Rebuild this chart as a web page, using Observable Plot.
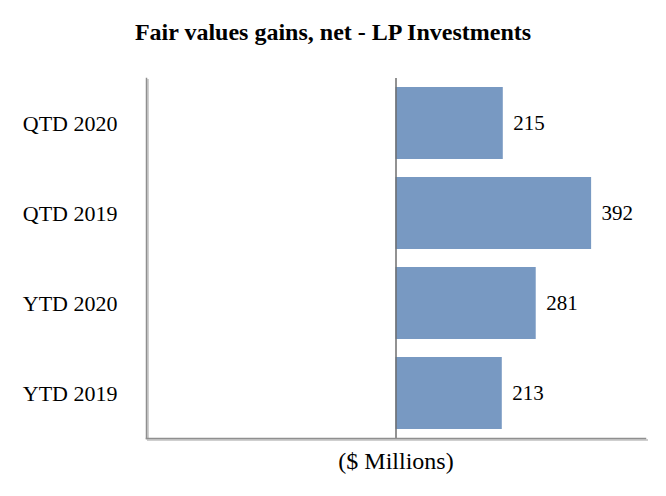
<!DOCTYPE html>
<html>
<head>
<meta charset="utf-8">
<script src="https://cdn.jsdelivr.net/npm/d3@7"></script>
<script src="https://cdn.jsdelivr.net/npm/@observablehq/plot@0.6"></script>
<style>
  body { margin: 0; background: #fff; }
  #title { height: 60px; box-sizing: border-box; padding-top: 19px; text-align: center;
    font: bold 24px "Liberation Serif", "Times New Roman", serif; line-height: 26px; color: #000; }
  svg { display: block; }
</style>
</head>
<body>
<div id="title">Fair values gains, net - LP Investments</div>
<div id="chart"></div>
<script>
const categories = ["QTD 2020", "QTD 2019", "YTD 2020", "YTD 2019"];
const values = [215, 392, 281, 213];
const xLabel = "($ Millions)";

const data = categories.map((c, i) => ({category: c, value: values[i]}));
const font = '"Liberation Serif", "Times New Roman", serif';

const chart = Plot.plot({
  width: 666,
  height: 436,
  marginLeft: 146,
  marginRight: 21,
  marginTop: 18,
  marginBottom: 58,
  style: {fontFamily: font, fontSize: "21px", color: "#000", background: "#fff"},
  x: {domain: [-500, 500], axis: null},
  y: {domain: categories, paddingInner: 0.2, paddingOuter: 0.1, label: null},
  marks: [
    Plot.barX(data, {y: "category", x: "value", fill: "#7899C2"}),
    Plot.ruleX([0], {stroke: "#6e6e6e", strokeWidth: 1.5}),
    Plot.frame({anchor: "left", stroke: "#cfcfcf", strokeWidth: 2, dx: 1.5, dy: 1.5}),
    Plot.frame({anchor: "bottom", stroke: "#cfcfcf", strokeWidth: 2, dx: 1.5, dy: 1.5}),
    Plot.frame({anchor: "left", stroke: "#8f8f8f", strokeWidth: 1.5}),
    Plot.frame({anchor: "bottom", stroke: "#8f8f8f", strokeWidth: 1.5}),
    Plot.axisY({tickSize: 0, tickPadding: 29, fontSize: 22, label: null}),
    Plot.text(data, {y: "category", x: "value", text: d => String(d.value), dx: 10, textAnchor: "start", fontSize: 21, fill: "#000"}),
    Plot.text([xLabel], {frameAnchor: "bottom", dy: 30, fontSize: 24, fill: "#000"})
  ]
});
document.getElementById("chart").appendChild(chart);
</script>
</body>
</html>
